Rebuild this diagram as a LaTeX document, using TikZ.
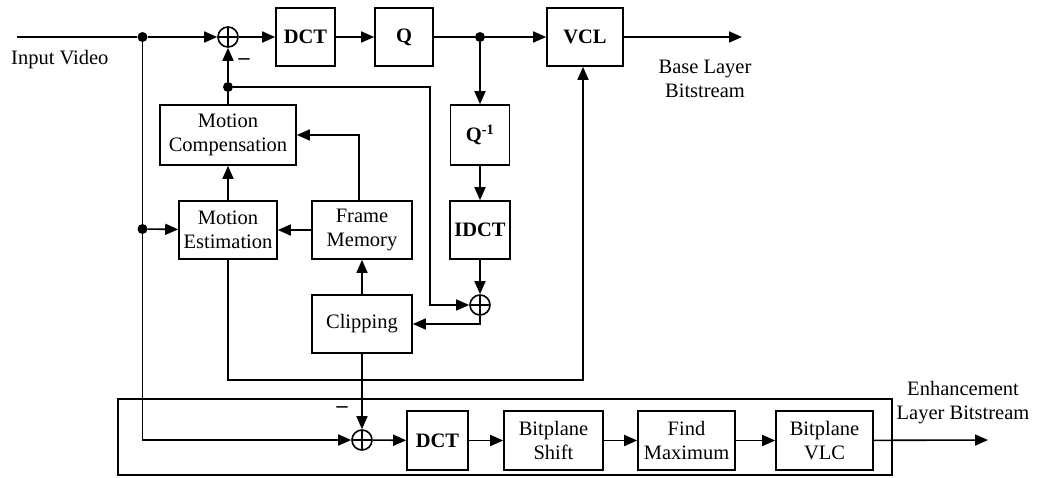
\documentclass[tikz,border=0pt]{standalone}
\usepackage{fontspec}
\setmainfont{Liberation Serif}
\usetikzlibrary{arrows.meta,calc}
\begin{document}
\begin{tikzpicture}[x=1pt,y=-1pt,
  txt/.style={font=\fontsize{20.5}{24}\selectfont},
  blk/.style={draw,line width=1.6pt,inner sep=0pt,align=center,txt},
  bb/.style={blk,font=\fontsize{20.5}{24}\selectfont\bfseries},
  lbl/.style={align=center,inner sep=0pt,txt},
  conn/.style={line width=1.6pt},
  arr/.style={conn,-{Triangle[length=13pt,width=11pt]}},
  sumnode/.style={circle,draw,line width=1.6pt,minimum size=20pt,inner sep=0pt,
    path picture={\draw[line width=1.6pt] (path picture bounding box.north) -- (path picture bounding box.south)
      (path picture bounding box.west) -- (path picture bounding box.east);}},
  dotnode/.style={circle,fill,inner sep=0pt,minimum size=10pt}]
\useasboundingbox (0,0) rectangle (1040,477);
\fill[white] (0,0) rectangle (1040,477);

% base layer blocks
\node[bb,minimum width=59pt,minimum height=58pt] (dcta) at (305.5,37) {DCT};
\node[bb,minimum width=58pt,minimum height=58pt] (q) at (404,37) {Q};
\node[bb,minimum width=76pt,minimum height=58pt] (vcl) at (585,37) {VCL};
\node[blk,minimum width=136pt,minimum height=60pt] (mc) at (228,135) {Motion\\Compensation};
\node[blk,minimum width=98pt,minimum height=58pt] (me) at (228,230) {Motion\\Estimation};
\node[blk,minimum width=100pt,minimum height=58pt] (fm) at (362,230) {Frame\\Memory};
\node[blk,minimum width=100pt,minimum height=58pt] (clip) at (362,324) {Clipping};
\node[bb,minimum width=59pt,minimum height=60pt] (qi) at (480,135) {Q\textsuperscript{-1}};
\node[bb,minimum width=60pt,minimum height=58pt] (idct) at (480,230) {IDCT};

% enhancement layer
\node[draw,line width=1.6pt,minimum width=774pt,minimum height=76pt,inner sep=0pt] (enh) at (505,437) {};
\node[bb,minimum width=61pt,minimum height=59pt] (dctb) at (437.5,440.5) {DCT};
\node[blk,minimum width=99pt,minimum height=59pt] (bs) at (553.5,440.5) {Bitplane\\Shift};
\node[blk,minimum width=97pt,minimum height=59pt] (fmx) at (686.5,440.5) {Find\\Maximum};
\node[blk,minimum width=97pt,minimum height=59pt] (bvlc) at (824.5,440.5) {Bitplane\\VLC};

% adders and junctions
\node[sumnode] (s1) at (228,37) {};
\node[sumnode] (s2) at (480,305) {};
\node[sumnode] (s3) at (362,440) {};
\node[dotnode] (d1) at (142.5,37) {};
\node[dotnode] (d2) at (480,37) {};
\node[dotnode] (d3) at (228,87) {};
\node[dotnode] (d4) at (142.5,229) {};

\coordinate (in) at (17,37);
\coordinate (out1) at (742,37);
\coordinate (out2) at (988,440);
\coordinate (c1) at (430,87);
\coordinate (c2) at (430,305);
\coordinate (c3) at (228,380);
\coordinate (c4) at (583,380);

% labels
\node[lbl,anchor=west] (tin) at (11,60) {Input Video};
\node[lbl] (tbase) at (705,79) {Base Layer\\Bitstream};
\node[lbl] (tenh) at (963,403) {Enhancement\\Layer Bitstream};
\node[lbl,font=\fontsize{22}{24}\selectfont\bfseries] (m1) at (244,62) {--};
\node[lbl,font=\fontsize{22}{24}\selectfont\bfseries] (m2) at (342,410) {--};

% connectors
\draw[conn] (in) -- (d1);
\draw[arr] (d1) -- (s1);
\draw[arr] (s1) -- (dcta);
\draw[arr] (dcta) -- (q);
\draw[conn] (q) -- (d2);
\draw[arr] (d2) -- (vcl);
\draw[arr] (vcl) -- (out1);
\draw[arr] (d2) -- (qi);
\draw[arr] (qi) -- (idct);
\draw[arr] (idct) -- (s2);
\draw[conn] (mc) -- (d3);
\draw[arr] (d3) -- (s1);
\draw[arr] (d3) -- (c1) -- (c2) -- (s2);
\draw[arr] (s2.south) |- (clip.east);
\draw[arr] (clip) -- (fm);
\draw[arr] ([xshift=-3pt]fm.north) |- (mc.east);
\draw[arr] (fm) -- (me);
\draw[arr] (me) -- (mc);
\draw[conn] (d1) -- (d4);
\draw[arr] (d4) -- (me);
\draw[arr] (d4) |- (s3);
\draw[arr] (me.south) -- (c3) -- (c4) -- (c4 |- vcl.south);
\draw[arr] (clip) -- (s3);
\draw[arr] (s3) -- (dctb);
\draw[arr] (dctb) -- (bs);
\draw[arr] (bs) -- (fmx);
\draw[arr] (fmx) -- (bvlc);
\draw[arr] (bvlc) -- (out2);
\end{tikzpicture}
\end{document}
